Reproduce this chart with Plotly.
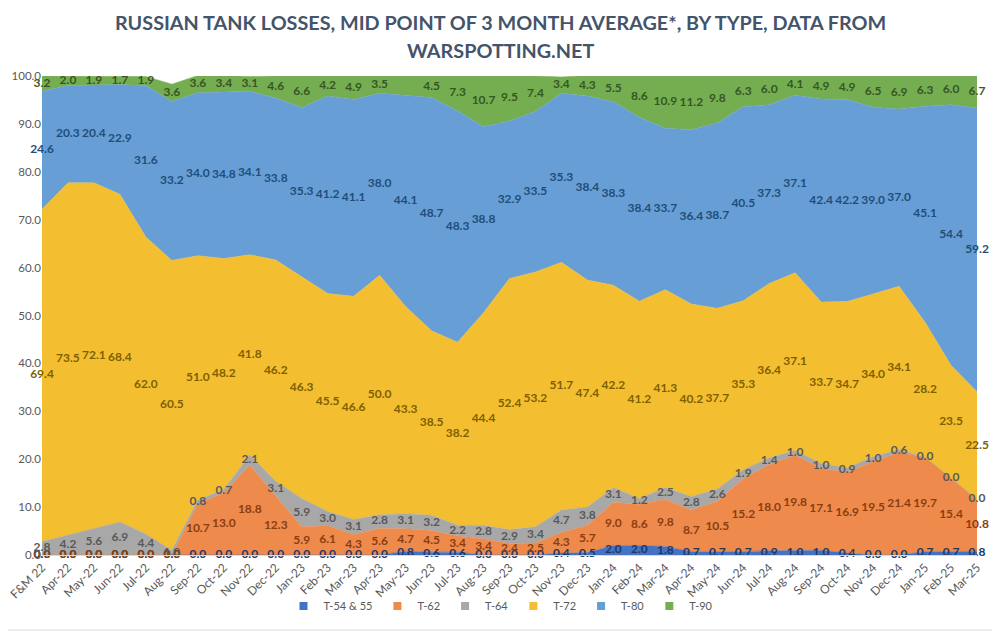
import plotly.graph_objects as go

months = ["F&M 22", "Apr-22", "May-22", "Jun-22", "Jul-22", "Aug-22", "Sep-22", "Oct-22", "Nov-22", "Dec-22",
          "Jan-23", "Feb-23", "Mar-23", "Apr-23", "May-23", "Jun-23", "Jul-23", "Aug-23", "Sep-23", "Oct-23",
          "Nov-23", "Dec-23", "Jan-24", "Feb-24", "Mar-24", "Apr-24", "May-24", "Jun-24", "Jul-24", "Aug-24",
          "Sep-24", "Oct-24", "Nov-24", "Dec-24", "Jan-25", "Feb-25", "Mar-25"]

t54 = [0.0, 0.0, 0.0, 0.0, 0.0, 0.0, 0.0, 0.0, 0.0, 0.0,
       0.0, 0.0, 0.0, 0.0, 0.8, 0.6, 0.6, 0.0, 0.0, 0.0,
       0.4, 0.5, 2.0, 2.0, 1.8, 0.7, 0.7, 0.7, 0.9, 1.0,
       1.0, 0.4, 0.0, 0.0, 0.7, 0.7, 0.8]
t62 = [0.0, 0.0, 0.0, 0.0, 0.0, 0.0, 10.7, 13.0, 18.8, 12.3,
       5.9, 6.1, 4.3, 5.6, 4.7, 4.5, 3.4, 3.4, 2.4, 2.5,
       4.3, 5.7, 9.0, 8.6, 9.8, 8.7, 10.5, 15.2, 18.0, 19.8,
       17.1, 16.9, 19.5, 21.4, 19.7, 15.4, 10.8]
t64 = [2.8, 4.2, 5.6, 6.9, 4.4, 1.0, 0.8, 0.7, 2.1, 3.1,
       5.9, 3.0, 3.1, 2.8, 3.1, 3.2, 2.2, 2.8, 2.9, 3.4,
       4.7, 3.8, 3.1, 1.2, 2.5, 2.8, 2.6, 1.9, 1.4, 1.0,
       1.0, 0.9, 1.0, 0.6, 0.0, 0.0, 0.0]
t72 = [69.4, 73.5, 72.1, 68.4, 62.0, 60.5, 51.0, 48.2, 41.8, 46.2,
       46.3, 45.5, 46.6, 50.0, 43.3, 38.5, 38.2, 44.4, 52.4, 53.2,
       51.7, 47.4, 42.2, 41.2, 41.3, 40.2, 37.7, 35.3, 36.4, 37.1,
       33.7, 34.7, 34.0, 34.1, 28.2, 23.5, 22.5]
t80 = [24.6, 20.3, 20.4, 22.9, 31.6, 33.2, 34.0, 34.8, 34.1, 33.8,
       35.3, 41.2, 41.1, 38.0, 44.1, 48.7, 48.3, 38.8, 32.9, 33.5,
       35.3, 38.4, 38.3, 38.4, 33.7, 36.4, 38.7, 40.5, 37.3, 37.1,
       42.4, 42.2, 39.0, 37.0, 45.1, 54.4, 59.2]
t90 = [3.2, 2.0, 1.9, 1.7, 1.9, 3.6, 3.6, 3.4, 3.1, 4.6,
       6.6, 4.2, 4.9, 3.5, 4.0, 4.5, 7.3, 10.7, 9.5, 7.4,
       3.4, 4.3, 5.5, 8.6, 10.9, 11.2, 9.8, 6.3, 6.0, 4.1,
       4.9, 4.9, 6.5, 6.9, 6.3, 6.0, 6.7]
hidden_labels = {("T-90", "May-23")}

title_lines = ["RUSSIAN TANK LOSSES, MID POINT OF 3 MONTH AVERAGE*, BY TYPE, DATA FROM",
               "WARSPOTTING.NET"]

series = [
    ("T-54 & 55", t54, "#4472C4", "#203864"),
    ("T-62", t62, "#EE8A4C", "#8A3E10"),
    ("T-64", t64, "#A8A8A8", "#595959"),
    ("T-72", t72, "#F3BF30", "#7F6000"),
    ("T-80", t80, "#679ED6", "#1F4E79"),
    ("T-90", t90, "#75AE51", "#375623"),
]

fig = go.Figure()
for name, vals, col, _ in series:
    fig.add_trace(go.Scatter(
        x=months, y=vals, name=name, stackgroup="one", mode="lines",
        line=dict(width=0.5, color=col), fillcolor=col, hoverinfo="skip",
        showlegend=False))

cum = [0.0] * len(months)
for name, vals, col, tcol in series:
    mids = [c + v / 2 for c, v in zip(cum, vals)]
    texts = ["" if (name, m) in hidden_labels else f"{v:.1f}" for m, v in zip(months, vals)]
    fig.add_trace(go.Scatter(
        x=months, y=mids, mode="text", text=texts, showlegend=False,
        textfont=dict(family="Lato", size=12, color=tcol, weight="bold"),
        cliponaxis=False, hoverinfo="skip"))
    cum = [c + v for c, v in zip(cum, vals)]

# legend entries: small squares, as in the reference
for name, _, col, _ in series:
    fig.add_trace(go.Scatter(
        x=[None], y=[None], mode="markers", name=name,
        marker=dict(symbol="square", size=8, color=col), showlegend=True))

# page has an 8px body margin; figure is sized to fill the 1000x633 window
W, H = 992, 625
ml, mr, mt, mb = 34, 23, 68, 78
pw, ph = W - ml - mr, H - mt - mb


def py(y_fig):
    return (H - mb - y_fig) / ph


def px(x_fig):
    return (x_fig - ml) / pw


annotations = []
for i, line in enumerate(title_lines):
    annotations.append(dict(
        text=f"<b>{line}</b>", xref="paper", yref="paper", x=px(492), y=py(14 + 28 * i),
        xanchor="center", yanchor="middle", showarrow=False,
        font=dict(family="Lato", size=19.8, color="#44546A")))

fig.update_layout(
    width=W, height=H,
    margin=dict(l=ml, r=mr, t=mt, b=mb, autoexpand=False),
    paper_bgcolor="white", plot_bgcolor="white",
    font=dict(family="Lato", color="#595959"),
    showlegend=True,
    legend=dict(orientation="h", x=px(493), xanchor="center", y=py(598), yanchor="middle",
                traceorder="normal", itemwidth=30, tracegroupgap=0,
                font=dict(size=11, color="#595959"), bgcolor="rgba(0,0,0,0)"),
    xaxis=dict(
        type="category", range=[0, len(months) - 1], tickangle=-45,
        tickfont=dict(size=12, color="#595959"), showgrid=False, automargin=False,
        showline=True, linecolor="#D9D9D9", ticks=""),
    yaxis=dict(
        range=[0, 100], dtick=10, tickformat=".1f", automargin=False,
        tickfont=dict(size=11.5, color="#595959"), showgrid=True, gridcolor="#D9D9D9",
        zeroline=False, ticks=""),
    annotations=annotations,
    shapes=[dict(type="rect", xref="paper", yref="paper",
                 x0=px(-6), x1=px(W - 3),
                 y0=py(H - 3), y1=py(-7),
                 line=dict(color="#D9D9D9", width=1), layer="below")],
)

fig.write_html("out.html")
